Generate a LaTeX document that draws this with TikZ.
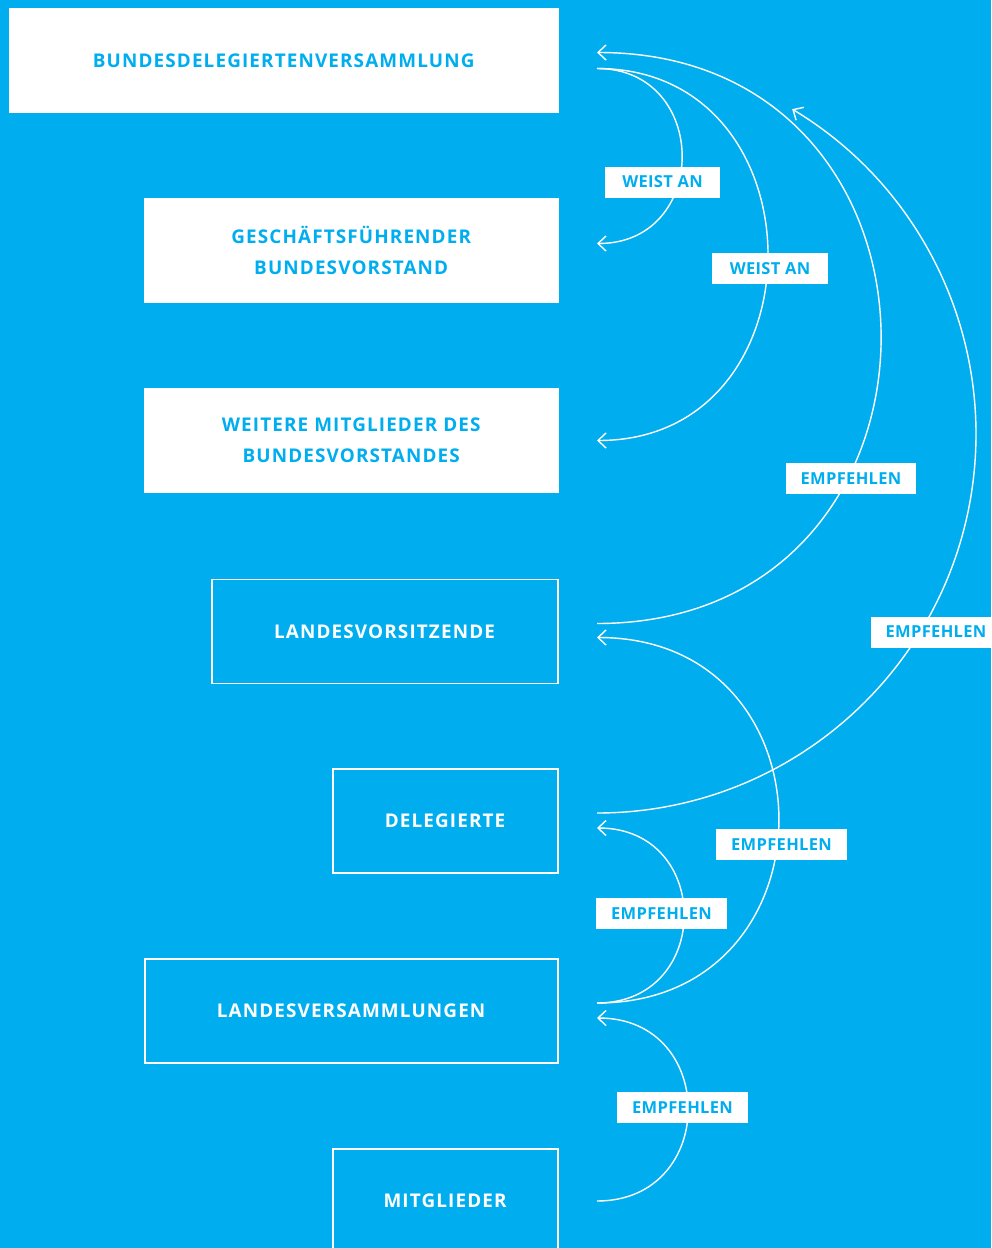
\documentclass[tikz,border=0pt]{standalone}
\usepackage{fontspec}
\setmainfont{Open Sans}
\newfontfamily\boxfamily{Open Sans}[LetterSpace=6]
\newfontfamily\tagfamily{Open Sans}[LetterSpace=2]
\usetikzlibrary{arrows.meta,calc}
\definecolor{bgblue}{HTML}{00AEEF}

\newcommand{\boxfont}{\fontsize{10.75}{17.6}\selectfont\boxfamily\bfseries}
\newcommand{\tagfont}{\fontsize{9.4}{11}\selectfont\tagfamily\bfseries}

\tikzset{
  fullbox/.style={fill=white,text=bgblue,inner sep=0pt,anchor=east,minimum height=2.1cm,align=center,font=\boxfont},
  linebox/.style={draw=white,line width=1.1pt,text=white,inner sep=0pt,anchor=east,minimum height=2.08cm,align=center,font=\boxfont},
  tag/.style={fill=white,text=bgblue,inner sep=0pt,minimum height=0.62cm,font=\tagfont},
  bow/.style={draw=white,line width=0.8pt,-{Straight Barb[length=0.16cm,width=0.3cm]}}
}

\begin{document}
\begin{tikzpicture}[x=0.02cm,y=-0.02cm]
\useasboundingbox (0,0) rectangle (991,1248);
\clip (0,0) rectangle (991,1248);
\fill[bgblue] (0,0) rectangle (991,1248);

% Bund
\node[fullbox,minimum width=11cm] (bdv) at (559,60.5) {BUNDESDELEGIERTENVERSAMMLUNG};
\node[fullbox,minimum width=8.3cm] (gbv) at (559,250.5) {GESCHÄFTSFÜHRENDER\\BUNDESVORSTAND};
\node[fullbox,minimum width=8.3cm] (wei) at (559,440.5) {WEITERE MITGLIEDER DES\\BUNDESVORSTANDES};
% Land
\node[linebox,minimum width=6.92cm] (lv) at (558.5,631.5) {LANDESVORSITZENDE};
\node[linebox,minimum width=4.5cm] (del) at (558.5,821) {DELEGIERTE};
\node[linebox,minimum width=8.26cm] (lvs) at (558.5,1011) {LANDESVERSAMMLUNGEN};
\node[linebox,minimum width=4.5cm] (mit) at (558.5,1201) {MITGLIEDER};

\coordinate (bdv-in) at ($(bdv.east)+(38,-8)$);
\coordinate (bdv-out) at ($(bdv.east)+(38,8)$);
\coordinate (gbv-in) at ($(gbv.east)+(38,-7)$);
\coordinate (wei-in) at ($(wei.east)+(38,0)$);
\coordinate (lv-out) at ($(lv.east)+(38.5,-8)$);
\coordinate (lv-in) at ($(lv.east)+(38.5,6)$);
\coordinate (del-out) at ($(del.east)+(38.5,-8)$);
\coordinate (del-in) at ($(del.east)+(38.5,7)$);
\coordinate (lvs-out) at ($(lvs.east)+(38.5,-8)$);
\coordinate (lvs-in) at ($(lvs.east)+(38.5,7)$);
\coordinate (mit-out) at ($(mit.east)+(38.5,0)$);

\draw[bow] (bdv-out) to[out=0,in=0,looseness=1.66] (gbv-in);
\draw[bow] (bdv-out) to[out=0,in=0,looseness=1.57] (wei-in);
\draw[bow] (lv-out) to[out=0,in=0,looseness=1.7] (bdv-in);
\draw[bow] (del-out) arc[start angle=90,end angle=-59,radius=379];
\draw[bow] (lvs-out) to[out=0,in=0,looseness=1.7] (lv-in);
\draw[bow] (lvs-out) to[out=0,in=0,looseness=1.7] (del-in);
\draw[bow] (mit-out) to[out=0,in=0,looseness=1.7] (lvs-in);

\node[tag,minimum width=2.3cm] (t1) at (662.5,182) {WEIST AN};
\node[tag,minimum width=2.32cm] (t2) at (770,268.5) {WEIST AN};
\node[tag,minimum width=2.6cm] (t3) at (851,478.5) {EMPFEHLEN};
\node[tag,minimum width=2.6cm] (t4) at (936,632) {EMPFEHLEN};
\node[tag,minimum width=2.62cm] (t5) at (781.5,844.5) {EMPFEHLEN};
\node[tag,minimum width=2.62cm] (t6) at (661.5,913.5) {EMPFEHLEN};
\node[tag,minimum width=2.62cm] (t7) at (682.5,1107.5) {EMPFEHLEN};
\end{tikzpicture}
\end{document}
